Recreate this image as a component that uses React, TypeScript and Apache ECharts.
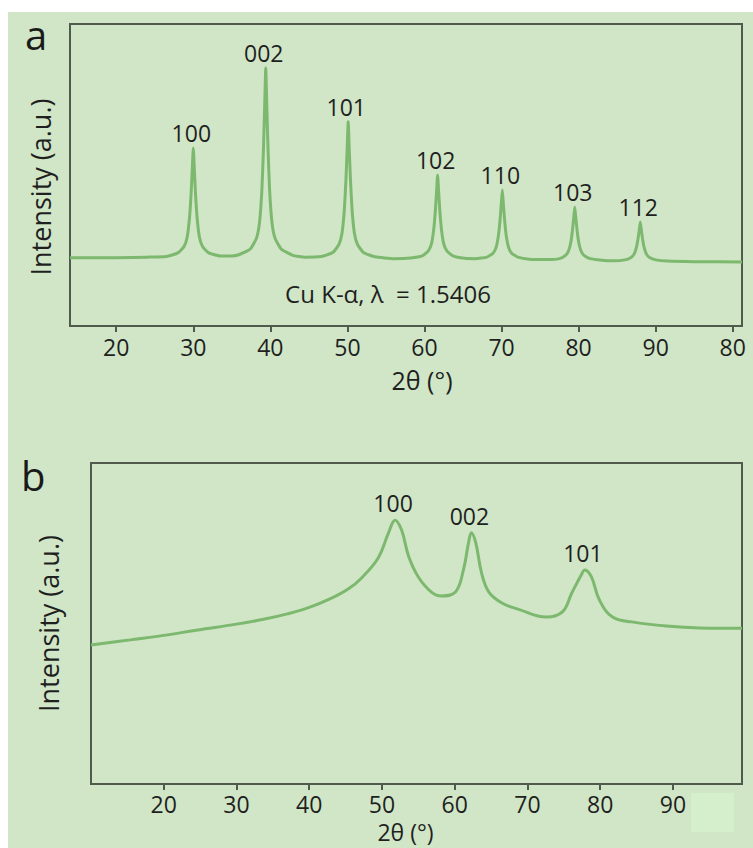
import React, { useEffect, useRef } from "react";
import * as echarts from "echarts";

// ---------- Panel a (crystalline XRD pattern) ----------
const aTickValues = [20, 30, 40, 50, 60, 70, 80, 90, 100];
const aTickLabels = ["20", "30", "40", "50", "60", "70", "80", "90", "80"];
const aPattern: [number, number][] = [
  [14, 22.6], [20, 22.6], [24, 22.8], [26.5, 23.0], [28.0, 24.2], [28.8, 26.3], [29.2, 29.4],
  [29.5, 35.6], [29.7, 43.2], [29.85, 50.9], [30.0, 58.9], [30.15, 50.9], [30.3, 43.2],
  [30.5, 35.6], [30.8, 29.4], [31.2, 26.3], [32.0, 24.2], [33.5, 23.2], [35.0, 23.2],
  [35.9, 23.6], [37.4, 25.5], [38.2, 29.1], [38.6, 34.5], [38.9, 45.1], [39.1, 58.4],
  [39.25, 71.6], [39.4, 85.4], [39.55, 71.6], [39.7, 58.4], [39.9, 45.1], [40.2, 34.5],
  [40.6, 29.1], [41.4, 25.5], [42.9, 23.4], [44.5, 22.8], [46.6, 23.0], [48.1, 24.3],
  [48.9, 27.0], [49.3, 30.8], [49.6, 38.5], [49.8, 48.1], [49.95, 57.6], [50.1, 67.6],
  [50.25, 57.6], [50.4, 48.1], [50.6, 38.5], [50.9, 30.8], [51.3, 27.0], [52.1, 24.3],
  [53.6, 22.9], [56.0, 22.3], [58.2, 22.5], [59.7, 23.2], [60.5, 24.9], [60.9, 27.2],
  [61.2, 32.0], [61.4, 37.9], [61.55, 43.8], [61.7, 50.0], [61.85, 43.8], [62.0, 37.9],
  [62.2, 32.0], [62.5, 27.2], [62.9, 24.9], [63.7, 23.2], [65.2, 22.4], [66.6, 22.3],
  [68.1, 22.8], [68.9, 24.1], [69.3, 26.1], [69.6, 30.1], [69.8, 35.0], [69.95, 39.9],
  [70.1, 45.0], [70.25, 39.9], [70.4, 35.0], [70.6, 30.1], [70.9, 26.1], [71.3, 24.1],
  [72.1, 22.8], [73.6, 22.1], [76.0, 22.0], [77.5, 22.3], [78.3, 23.4], [78.7, 24.9],
  [79.0, 27.9], [79.2, 31.7], [79.35, 35.5], [79.5, 39.4], [79.65, 35.5], [79.8, 31.7],
  [80.0, 27.9], [80.3, 24.9], [80.7, 23.4], [81.5, 22.3], [83.0, 21.8], [84.5, 21.6],
  [86.0, 21.9], [86.8, 22.7], [87.2, 23.8], [87.5, 26.0], [87.7, 28.8], [87.85, 31.5],
  [88.0, 34.4], [88.15, 31.5], [88.3, 28.8], [88.5, 26.0], [88.8, 23.8], [89.2, 22.7],
  [90.0, 21.9], [91.5, 21.5], [95.0, 21.3], [101.2, 21.2],
];
const aPeakNames = ["100", "002", "101", "102", "110", "103", "112"];
const aPeakPos = [30.0, 39.4, 50.1, 61.7, 70.1, 79.5, 88.0];
const aPeakHeight = [58.9, 85.4, 67.6, 50.0, 45.0, 39.4, 34.4];

// ---------- Panel b (broad XRD pattern) ----------
const bPattern: [number, number][] = [
  [10, 43.3], [15.4, 44.9], [20, 46.3], [24.7, 48.0], [30, 49.8], [33.9, 51.4], [37, 53.0],
  [40, 55.0], [43, 57.8], [45.4, 60.8], [47.2, 64.2], [49.5, 70.5], [50.9, 78.2],
  [51.8, 82.2], [52.7, 79.1], [53.7, 70.7], [55.0, 64.5], [56.8, 59.8], [58.2, 58.6],
  [60.1, 59.8], [61.2, 66.7], [61.9, 75.1], [62.3, 78.3], [62.9, 75.1], [63.7, 65.7],
  [64.7, 59.8], [66.5, 56.4], [68.8, 54.4], [72.6, 52.0], [74.8, 53.6], [76.1, 59.5],
  [77.4, 65.1], [77.9, 66.7], [78.8, 64.5], [79.9, 57.3], [81.7, 52.0], [84.4, 50.5],
  [89.1, 49.2], [93.7, 48.6], [99.5, 48.5],
];
const bPeakNames = ["100", "002", "101"];
const bPeakPos = [51.8, 62.3, 77.9];
const bPeakHeight = [82.2, 78.3, 66.7];

const annotation = "Cu K-\u03b1, \u03bb \u00a0= 1.5406";
const xTitle = "2\u03b8 (\u00b0)";
const yTitle = "Intensity (a.u.)";

const BG = "#d0e6c6";
const LINE = "#7db86f";
const FRAME = "#505a4d";
const TEXT = "#1f1f1f";
const FONT = "'Open Sans', 'DejaVu Sans', sans-serif";

export default function App() {
  const ref = useRef<HTMLDivElement>(null);
  useEffect(() => {
    if (!ref.current) return;
    const chart = echarts.init(ref.current, null, { renderer: "svg" });
    const peakLabelSeries = (names: string[], pos: number[], h: number[], idx: number, dist: number) => ({
      type: "scatter",
      xAxisIndex: idx,
      yAxisIndex: idx,
      symbolSize: 1,
      itemStyle: { color: "rgba(0,0,0,0)" },
      silent: true,
      z: 5,
      data: names.map((n, i) => ({ name: n, value: [pos[i], h[i]] })),
      label: {
        show: true,
        position: "top",
        distance: dist,
        offset: [-2, 0],
        formatter: (p: any) => p.name,
        color: TEXT,
        opacity: 1,
        textBorderWidth: 0,
        fontSize: 23,
        fontFamily: FONT,
      },
    });
    const tickLabelStyle = { color: TEXT, fontSize: 23, fontFamily: FONT };
    chart.setOption({
      animation: false,
      backgroundColor: "#ffffff",
      textStyle: { fontFamily: FONT },
      grid: [
        { left: 70, top: 24, width: 672, height: 302, show: true, borderColor: FRAME, borderWidth: 2, backgroundColor: "transparent" },
        { left: 91, top: 463, width: 651, height: 321, show: true, borderColor: FRAME, borderWidth: 2, backgroundColor: "transparent" },
      ],
      xAxis: [
        {
          type: "value", gridIndex: 0, min: 14, max: 101.2,
          name: xTitle, nameLocation: "middle", nameGap: 41,
          nameTextStyle: { color: TEXT, fontSize: 25, fontFamily: FONT, padding: [0, 0, 0, 32] },
          axisLine: { show: true, lineStyle: { color: FRAME, width: 2 } },
          axisTick: { show: true, length: 6, customValues: aTickValues, lineStyle: { color: FRAME, width: 2 } },
          axisLabel: {
            ...tickLabelStyle, margin: 9, customValues: aTickValues,
            formatter: (v: number) => {
              const i = aTickValues.indexOf(Number(v));
              return i >= 0 ? aTickLabels[i] : "";
            },
          },
          splitLine: { show: false },
        },
        {
          type: "value", gridIndex: 1, min: 10, max: 99.5, interval: 10,
          name: xTitle, nameLocation: "middle", nameGap: 36,
          nameTextStyle: { color: TEXT, fontSize: 23, fontFamily: FONT, padding: [0, 22, 0, 0] },
          axisLine: { show: true, lineStyle: { color: FRAME, width: 2 } },
          axisTick: { show: true, length: 6, lineStyle: { color: FRAME, width: 2 } },
          axisLabel: { ...tickLabelStyle, margin: 8, showMinLabel: false, showMaxLabel: false },
          splitLine: { show: false },
        },
      ],
      yAxis: [
        {
          type: "value", gridIndex: 0, min: 0, max: 100,
          name: yTitle, nameLocation: "middle", nameGap: 16,
          nameTextStyle: { color: TEXT, fontSize: 27, fontFamily: FONT, padding: [0, 24, 0, 0] },
          axisLine: { show: false }, axisTick: { show: false }, axisLabel: { show: false }, splitLine: { show: false },
        },
        {
          type: "value", gridIndex: 1, min: 0, max: 100,
          name: yTitle, nameLocation: "middle", nameGap: 29,
          nameTextStyle: { color: TEXT, fontSize: 27, fontFamily: FONT },
          axisLine: { show: false }, axisTick: { show: false }, axisLabel: { show: false }, splitLine: { show: false },
        },
      ],
      series: [
        {
          type: "line", xAxisIndex: 0, yAxisIndex: 0, data: aPattern, showSymbol: false,
          smooth: 0.15,
          lineStyle: { color: LINE, width: 3 }, silent: true,
        },
        {
          type: "line", xAxisIndex: 1, yAxisIndex: 1, data: bPattern, showSymbol: false,
          smooth: 0.4,
          lineStyle: { color: LINE, width: 3 }, silent: true,
        },
        peakLabelSeries(aPeakNames, aPeakPos, aPeakHeight, 0, 3),
        peakLabelSeries(bPeakNames, bPeakPos, bPeakHeight, 1, 5),
      ],
      graphic: [
        { type: "rect", z: -10, shape: { x: 8, y: 12, width: 745, height: 836 }, style: { fill: BG }, silent: true },
        { type: "rect", z: -9, shape: { x: 691, y: 793, width: 43, height: 39 }, style: { fill: "#d5eecb" }, silent: true },
        { type: "text", x: 388, y: 293, style: { text: annotation, fill: TEXT, fontSize: 24, fontFamily: FONT, align: "center", verticalAlign: "middle" } },
        { type: "text", x: 25, y: 14, style: { text: "a", fill: "#1a1a1a", fontSize: 40, fontFamily: FONT, align: "left", verticalAlign: "top" } },
        { type: "text", x: 21, y: 455, style: { text: "b", fill: "#1a1a1a", fontSize: 40, fontFamily: FONT, align: "left", verticalAlign: "top" } },
      ],
    });
    return () => chart.dispose();
  }, []);
  return (
    <div
      ref={ref}
      style={{ position: "absolute", left: 0, top: 0, width: 753, height: 848 }}
    />
  );
}
